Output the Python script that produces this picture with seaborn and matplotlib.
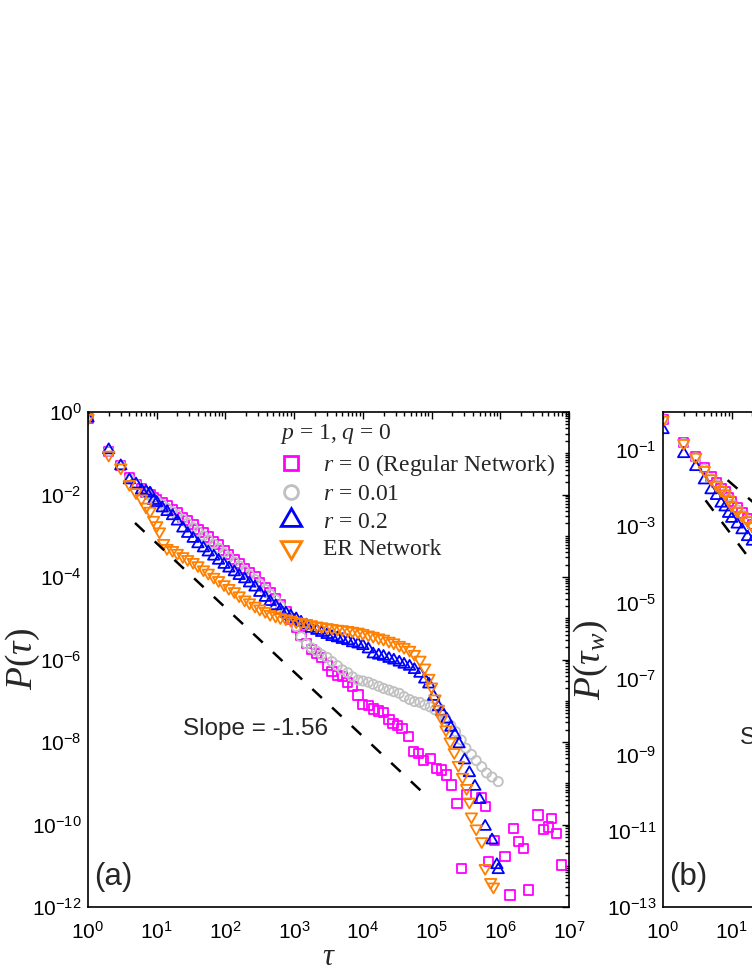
import numpy as np
import matplotlib
matplotlib.use('Agg')
import matplotlib.pyplot as plt
import seaborn as sns
from matplotlib.lines import Line2D
from matplotlib.ticker import FixedLocator, LogFormatterSciNotation, NullFormatter

sns.set_theme(style='white')
plt.rcParams['font.family'] = ['Liberation Sans', 'DejaVu Sans']
plt.rcParams['mathtext.fontset'] = 'custom'
plt.rcParams['mathtext.rm'] = 'Liberation Serif'
plt.rcParams['mathtext.it'] = 'Liberation Serif:italic'
plt.rcParams['axes.unicode_minus'] = False

# ---------------- data, panel (a): log10(tau), log10(P) ----------------
a_reg_logt = [0, .301, .477, .602, .699, .778, .845, .903, .954, 1.0, 1.08, 1.15, 1.23, 1.3, 1.38, 1.45,
              1.53, 1.6, 1.68, 1.75, 1.83, 1.9, 1.98, 2.05, 2.13, 2.2, 2.28, 2.35, 2.43, 2.5, 2.58, 2.65,
              2.73, 2.8, 2.88, 2.95, 3.03, 3.1, 3.18, 3.25, 3.33, 3.4, 3.48, 3.55, 3.63, 3.7, 3.78, 3.85,
              3.93, 4.0, 4.08, 4.15, 4.23, 4.3, 4.38, 4.44, 4.5, 4.57, 4.66, 4.735, 4.81, 4.88, 4.98, 5.07,
              5.15, 5.22, 5.29, 5.37, 5.44, 5.51, 5.73, 5.78, 5.83, 5.92, 6.07, 6.14, 6.19, 6.26, 6.34,
              6.41, 6.55, 6.63, 6.70, 6.75, 6.82, 6.89]
a_reg_logp = [-.15, -.95, -1.30, -1.58, -1.75, -1.85, -1.95, -2.0, -2.08, -2.13, -2.2, -2.28, -2.36, -2.45,
              -2.55, -2.63, -2.73, -2.85, -2.93, -3.03, -3.13, -3.22, -3.36, -3.45, -3.58, -3.68, -3.8,
              -3.9, -4.0, -4.13, -4.25, -4.38, -4.52, -4.68, -4.85, -5.02, -5.22, -5.42, -5.62, -5.75,
              -5.85, -5.95, -6.15, -6.30, -6.38, -6.42, -6.55, -6.65, -6.86, -7.1, -7.12, -7.2, -7.25,
              -7.28, -7.45, -7.55, -7.6, -7.67, -7.87, -8.235, -8.28, -8.44, -8.40, -8.64, -8.68, -8.80,
              -9.04, -9.49, -11.06, -9.28, -9.36, -9.56, -10.9, -10.38, -10.78, -11.71, -10.09, -10.42,
              -10.58, -11.59, -9.77, -10.13, -10.06, -9.85, -10.21, -10.98]

a_r001_logt = [0, .301, .477, .602, .699, .778, .845, .903, .954, 1.0, 1.08, 1.15, 1.23, 1.3, 1.38, 1.45,
               1.53, 1.6, 1.68, 1.75, 1.83, 1.9, 1.98, 2.05, 2.13, 2.2, 2.28, 2.35, 2.43, 2.5, 2.58, 2.65,
               2.73, 2.8, 2.88, 2.95, 3.03, 3.1, 3.18, 3.25, 3.33, 3.4, 3.48, 3.55, 3.63, 3.7, 3.78, 3.85,
               3.93, 4.0, 4.08, 4.15, 4.23, 4.3, 4.38, 4.45, 4.53, 4.6, 4.68, 4.75, 4.83, 4.9, 4.98, 5.05,
               5.13, 5.2, 5.28, 5.35, 5.43, 5.5, 5.58, 5.65, 5.73, 5.8, 5.88, 5.97]
a_r001_logp = [-.15, -.95, -1.30, -1.62, -1.75, -1.88, -1.97, -2.03, -2.1, -2.16, -2.24, -2.33, -2.42,
               -2.5, -2.6, -2.7, -2.8, -2.9, -3.0, -3.1, -3.2, -3.3, -3.42, -3.52, -3.63, -3.73, -3.85,
               -3.95, -4.06, -4.17, -4.3, -4.42, -4.55, -4.7, -4.85, -5.0, -5.2, -5.45, -5.62, -5.72,
               -5.8, -5.88, -5.95, -6.05, -6.15, -6.25, -6.32, -6.42, -6.5, -6.52, -6.55, -6.6, -6.65,
               -6.7, -6.74, -6.78, -6.82, -6.9, -6.97, -7.02, -7.04, -7.1, -7.15, -7.22, -7.3, -7.42,
               -7.6, -7.75, -7.95, -8.15, -8.3, -8.45, -8.6, -8.75, -8.85, -8.96]

a_r02_logt = [0, .301, .477, .602, .699, .778, .845, .903, .954, 1.0, 1.08, 1.15, 1.23, 1.3, 1.38, 1.45,
              1.53, 1.6, 1.68, 1.75, 1.83, 1.9, 1.98, 2.05, 2.13, 2.2, 2.28, 2.35, 2.43, 2.5, 2.58, 2.65,
              2.73, 2.8, 2.88, 2.95, 3.03, 3.1, 3.18, 3.25, 3.33, 3.4, 3.48, 3.55, 3.63, 3.7, 3.78, 3.85,
              3.93, 4.0, 4.08, 4.15, 4.23, 4.3, 4.38, 4.45, 4.53, 4.6, 4.68, 4.75, 4.83, 4.9, 4.96, 5.03,
              5.1, 5.15, 5.22, 5.28, 5.34, 5.4, 5.48, 5.55, 5.63, 5.7, 5.78, 5.88, 5.95, 5.97]
a_r02_logp = [-.15, -.92, -1.31, -1.65, -1.75, -1.9, -1.93, -1.97, -2.15, -2.2, -2.33, -2.42, -2.52,
              -2.65, -2.82, -2.95, -3.07, -3.2, -3.3, -3.4, -3.5, -3.6, -3.7, -3.79, -3.88, -3.97, -4.05,
              -4.15, -4.25, -4.38, -4.5, -4.6, -4.7, -4.8, -4.88, -4.95, -5.02, -5.1, -5.17, -5.25,
              -5.3, -5.35, -5.4, -5.45, -5.48, -5.52, -5.55, -5.6, -5.63, -5.67, -5.75, -5.87, -5.9,
              -5.93, -5.98, -6.02, -6.07, -6.12, -6.17, -6.25, -6.34, -6.48, -6.6, -6.9, -7.15, -7.27,
              -7.45, -7.65, -7.83, -8.05, -8.44, -8.75, -9.08, -9.4, -10.05, -10.38, -10.98, -11.1]

a_er_logt = [0, .301, .477, .602, .699, .778, .845, .903, .954, 1.0, 1.04, 1.1, 1.15, 1.23, 1.3, 1.38,
             1.45, 1.53, 1.6, 1.68, 1.75, 1.83, 1.9, 1.98, 2.05, 2.13, 2.2, 2.28, 2.35, 2.43, 2.5, 2.58,
             2.65, 2.73, 2.8, 2.88, 2.95, 3.03, 3.1, 3.18, 3.25, 3.33, 3.4, 3.48, 3.55, 3.63, 3.7, 3.78,
             3.85, 3.93, 4.0, 4.08, 4.15, 4.23, 4.3, 4.38, 4.45, 4.53, 4.6, 4.68, 4.75, 4.83, 4.9, 4.96,
             5.0, 5.05, 5.1, 5.15, 5.21, 5.27, 5.33, 5.39, 5.45, 5.51, 5.55, 5.58, 5.65, 5.73, 5.78,
             5.86, 5.90]
a_er_logp = [-.15, -1.04, -1.35, -1.75, -1.95, -2.1, -2.3, -2.4, -2.62, -2.75, -2.9, -3.18, -3.3, -3.35,
             -3.42, -3.5, -3.57, -3.64, -3.72, -3.82, -3.9, -4.0, -4.08, -4.18, -4.27, -4.35, -4.45,
             -4.55, -4.62, -4.7, -4.77, -4.83, -4.9, -4.94, -4.98, -5.01, -5.04, -5.08, -5.1, -5.12,
             -5.15, -5.18, -5.2, -5.22, -5.24, -5.26, -5.27, -5.29, -5.31, -5.33, -5.36, -5.4, -5.43,
             -5.47, -5.5, -5.55, -5.59, -5.65, -5.7, -5.77, -5.87, -6.01, -6.2, -6.45, -6.66, -6.95,
             -7.2, -7.43, -7.7, -7.99, -8.25, -8.56, -8.85, -9.12, -9.45, -9.81, -10.1, -10.41, -11.06,
             -11.4, -11.51]

# ---------------- data, panel (b) (visible part only) ----------------
b_logt = [0, .301, .477, .602, .699, .778, .845, .903, .954, 1.0, 1.08, 1.15, 1.23, 1.3]
b_reg_logp = [-.2, -.8, -1.17, -1.45, -1.7, -1.85, -2.0, -2.1, -2.25, -2.35, -2.5, -2.65, -2.8, -2.95]
b_r001_logp = [-.21, -.82, -1.2, -1.5, -1.75, -1.9, -2.04, -2.14, -2.28, -2.42, -2.57, -2.7, -2.84, -2.98]
b_r02_logp = [-.47, -1.1, -1.44, -1.79, -2.05, -2.2, -2.4, -2.5, -2.67, -2.8, -2.95, -3.1, -3.28, -3.4]
b_er_logp = [-.21, -.82, -1.18, -1.53, -1.75, -1.92, -2.05, -2.15, -2.3, -2.45, -2.6, -2.72, -2.85, -3.0]

slope_a = -1.56
slope_a_tau = [10 ** 0.684, 10 ** 4.905]
slope_a_p0 = 10 ** -2.69           # guide line value at its left end
slope_b1 = -1.56
slope_b1_tau = [10 ** 0.94, 10 ** 1.5]
slope_b1_p0 = 10 ** -1.79
slope_b2 = -2.4
slope_b2_tau = [10 ** 0.62, 10 ** 1.5]
slope_b2_p0 = 10 ** -2.32

labels = ['$r$ = 0 (Regular Network)', '$r$ = 0.01', '$r$ = 0.2', 'ER Network']
colors = ['#FF00FF', '#C0C0C0', '#0000FF', '#FF8000']
legend_title = '$p$ = 1, $q$ = 0'

W, H = 752, 973
fig = plt.figure(figsize=(W / 100, H / 100), dpi=100)
axw, axh = 481 / W, 495 / H
ax_a = fig.add_axes([88 / W, (H - 907) / H, axw, axh])
ax_b = fig.add_axes([663 / W, (H - 907) / H, axw, axh])

tri_up = (3, 0, 0)
tri_dn = (3, 0, 180)
marks = ['s', 'o', tri_up, tri_dn]
sizes = [44, 44, 90, 90]

def draw(ax, series):
    for (lt, lp), m, s, c in zip(series, marks, sizes, colors):
        sns.scatterplot(x=10 ** np.array(lt), y=10 ** np.array(lp), ax=ax, marker=m, s=s,
                        facecolor='none', edgecolor=c, linewidth=1.3, legend=False)

draw(ax_a, [(a_reg_logt, a_reg_logp), (a_r001_logt, a_r001_logp),
            (a_r02_logt, a_r02_logp), (a_er_logt, a_er_logp)])
draw(ax_b, [(b_logt, b_reg_logp), (b_logt, b_r001_logp), (b_logt, b_r02_logp), (b_logt, b_er_logp)])

dash = (0, (5.2, 5.6))
def guide(ax, taus, p0, slope):
    x = np.array(taus)
    ax.plot(x, p0 * (x / x[0]) ** slope, color='black', lw=1.8, ls=dash)

guide(ax_a, slope_a_tau, slope_a_p0, slope_a)
guide(ax_b, slope_b1_tau, slope_b1_p0, slope_b1)
guide(ax_b, slope_b2_tau, slope_b2_p0, slope_b2)

def style(ax, ymin_exp, ylab_exps):
    ax.set_xscale('log')
    ax.set_yscale('log')
    ax.set_xlim(1, 1e7)
    ax.set_ylim(10.0 ** ymin_exp, 1)
    xmaj = [10.0 ** k for k in range(0, 8)]
    xmin = [m * 10.0 ** k for k in range(0, 7) for m in range(2, 10)]
    ax.xaxis.set_major_locator(FixedLocator(xmaj))
    ax.xaxis.set_minor_locator(FixedLocator(xmin))
    ymaj = [10.0 ** k for k in ylab_exps]
    ymin = [m * 10.0 ** k for k in range(ymin_exp, 0) for m in range(1, 10)
            if not (m == 1 and k in ylab_exps)]
    ax.yaxis.set_major_locator(FixedLocator(ymaj))
    ax.yaxis.set_minor_locator(FixedLocator(ymin))
    ax.xaxis.set_major_formatter(LogFormatterSciNotation())
    ax.yaxis.set_major_formatter(LogFormatterSciNotation())
    ax.xaxis.set_minor_formatter(NullFormatter())
    ax.yaxis.set_minor_formatter(NullFormatter())
    ax.tick_params(which='both', direction='in', top=True, right=True, colors='black',
                   labelsize=15, width=1.0)
    ax.tick_params(axis='x', which='both', pad=10)
    ax.tick_params(axis='y', which='both', pad=4.5)
    ax.tick_params(which='major', length=5)
    ax.tick_params(which='minor', length=3)
    for sp in ax.spines.values():
        sp.set_color('black')
        sp.set_linewidth(1.2)
    ax.grid(False)

style(ax_a, -12, list(range(0, -13, -2)))
style(ax_b, -13, list(range(-1, -14, -2)))

serif = ['Liberation Serif', 'DejaVu Serif']
ax_a.set_xlabel(r'$\tau$', fontsize=22, family=serif)
ax_a.xaxis.set_label_coords(0.5, -0.102)
ax_a.xaxis.label.set_va('center')
ax_a.set_ylabel(r'$P(\tau)$', fontsize=27, family=serif)
ax_a.yaxis.set_label_coords(-0.135, 0.5)
ax_a.yaxis.label.set_va('center')
ax_b.set_ylabel(r'$P(\tau_w)$', fontsize=27, family=serif)
ax_b.yaxis.set_label_coords(-0.15, 0.5)
ax_b.yaxis.label.set_va('center')

ax_a.text(0.013, 0.06, '(a)', transform=ax_a.transAxes, fontsize=22.5, va='center', ha='left')
ax_b.text(0.013, 0.06, '(b)', transform=ax_b.transAxes, fontsize=22.5, va='center', ha='left')
ax_a.text(0.198, 0.36, 'Slope = -1.56', transform=ax_a.transAxes, fontsize=17.5, va='center', ha='left')
ax_b.text(0.16, 0.341, 'Slope = -1.56', transform=ax_b.transAxes, fontsize=17.5, va='center', ha='left')

handles = [Line2D([], [], ls='', marker='s', ms=10, mfc='none', mec=colors[0], mew=2),
           Line2D([], [], ls='', marker='o', ms=10, mfc='none', mec=colors[1], mew=2),
           Line2D([], [], ls='', marker=tri_up, ms=17, mfc='none', mec=colors[2], mew=2),
           Line2D([], [], ls='', marker=tri_dn, ms=17, mfc='none', mec=colors[3], mew=2)]
leg = ax_a.legend(handles, labels, title=legend_title, loc='upper left',
                  bbox_to_anchor=(0.399, 0.979), frameon=False, borderpad=0, borderaxespad=0,
                  handlelength=0.93, handletextpad=0.9, labelspacing=0.25,
                  prop={'family': serif, 'size': 17}, title_fontproperties={'family': serif, 'size': 17},
                  alignment='left')
leg._legend_box.sep = 4

fig.savefig('out.png', dpi=100)
